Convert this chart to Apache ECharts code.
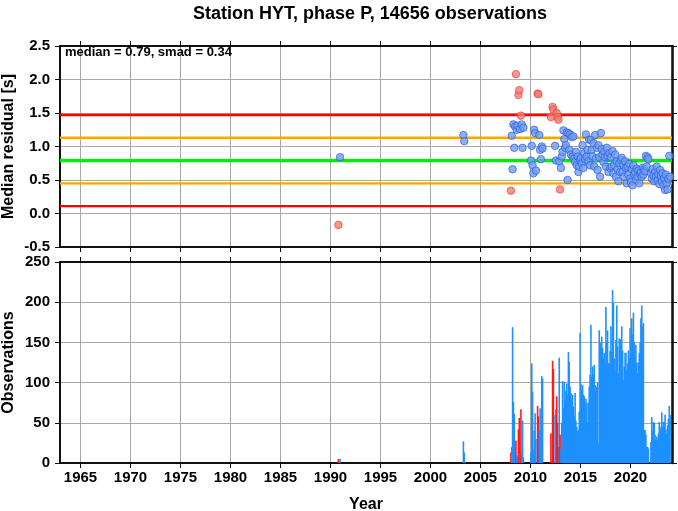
<!DOCTYPE html>
<html><head><meta charset="utf-8">
<script src="https://cdn.jsdelivr.net/npm/echarts@6/dist/echarts.min.js"></script>
<style>html,body{margin:0;padding:0;background:#fff}#c{width:678px;height:511px}</style>
</head><body><div id="c"></div>
<script>
const titleText = 'Station HYT, phase P, 14656 observations';
const medianValue = 0.79;
const smadValue = 0.34;
const xTickYears = [1965,1970,1975,1980,1985,1990,1995,2000,2005,2010,2015,2020];
const residualTicks = [-0.5,0,0.5,1,1.5,2,2.5];
const countTicks = [0,50,100,150,200,250];

// early period (sparse months); flagged = drawn in red
const earlyMonths = ['1990-10','1990-12','2003-04','2003-05',
 '2008-01','2008-02','2008-03','2008-04','2008-05','2008-06','2008-07','2008-08','2008-09','2008-10','2008-11','2008-12',
 '2009-01','2009-02','2009-03','2009-04',
 '2010-01','2010-02','2010-03','2010-04','2010-05','2010-06','2010-07','2010-09','2010-10','2010-11','2010-12',
 '2011-01','2011-02','2011-03',
 '2012-01','2012-03','2012-04','2012-06','2012-07','2012-08','2012-09','2012-10','2012-11','2012-12','2013-01'];
const earlyMedians = [-0.17,0.84,1.17,1.08,
 0.34,1.16,0.66,1.33,0.98,1.30,2.08,1.25,1.31,1.77,1.84,1.26,
 1.46,1.33,0.98,1.28,
 0.79,1.01,0.72,0.60,1.25,1.20,0.64,1.79,1.78,1.17,0.95,
 0.81,1.00,0.97,
 1.44,1.59,1.55,1.01,0.79,1.50,1.44,1.40,0.78,0.36,0.68];
const earlyCounts = [5,5,27,13,
 13,20,169,76,61,20,28,10,8,42,56,12,
 67,15,53,7,
 13,124,89,17,40,62,30,71,58,41,68,
 40,108,105,
 37,127,117,60,67,83,50,20,131,35,17];
const earlyFlagged = [1,0,0,0,
 1,0,0,0,0,0,1,0,0,1,1,0,
 1,0,0,0,
 0,0,0,0,0,0,0,1,1,0,0,
 0,0,0,
 1,1,1,0,0,1,1,1,0,1,0];

// continuous monthly period, from 2013-02 (2021-11 and 2021-12 have no data)
const med2013 = [0.85,0.92,1.24,1.11,0.98,1.02,1.21,0.50,1.20,0.95,1.18];
const med2014 = [0.88,1.14,0.85,1.15,0.82,0.77,0.92,0.72,0.85,0.62,0.70,0.80];
const med2015 = [0.83,0.75,1.02,0.68,0.90,0.81,1.18,0.85,0.95,0.78,1.10,0.72];
const med2016 = [1.10,0.95,0.85,1.05,0.70,1.17,0.82,0.98,0.65,1.02,0.84,0.55];
const med2017 = [1.20,0.96,0.88,0.77,0.92,0.84,0.70,0.98,0.86,0.62,0.90,0.68];
const med2018 = [0.84,0.70,0.93,0.60,0.72,0.88,0.55,0.78,0.66,0.48,0.75,0.62];
const med2019 = [0.80,0.83,0.62,0.72,0.55,0.78,0.68,0.45,0.70,0.58,0.74,0.52];
const med2020 = [0.47,0.66,0.42,0.72,0.58,0.62,0.50,0.67,0.55,0.64,0.45,0.60];
const med2021 = [0.62,0.55,0.68,0.58,0.66,0.63,0.86,0.70,0.84,0.81];
const med2022 = [0.60,0.52,0.66,0.57,0.48,0.62,0.55,0.70,0.50,0.58,0.44,0.65];
const med2023 = [0.56,0.48,0.60,0.42,0.53,0.35,0.58,0.45,0.36,0.52,0.86,0.55];

const cnt2013 = [50,102,68,101,90,76,99,85,138,126,95];
const cnt2014 = [87,80,85,70,58,87,53,45,39,41,64,162];
const cnt2015 = [99,90,97,85,83,70,80,75,50,75,95,110];
const cnt2016 = [172,107,120,110,122,97,90,95,100,25,165,150];
const cnt2017 = [145,157,143,130,137,124,194,150,165,124,124,140];
const cnt2018 = [170,138,215,199,130,116,153,196,145,112,155,154];
const cnt2019 = [150,170,140,103,120,137,137,115,124,140,130,168];
const cnt2020 = [150,180,160,187,150,137,147,125,112,125,137,150];
const cnt2021 = [180,196,170,174,41,41,35,20,20,18];
const cnt2022 = [26,57,40,51,50,35,29,33,29,37,51,45];
const cnt2023 = [40,63,45,51,51,60,42,37,47,55,71,60];

// ---------- build ----------
const FONT = '"Liberation Sans", Arial, Helvetica, sans-serif';
const xMin = 1962.95, xMax = 2024.15;
const recs = [];
earlyMonths.forEach((m,i)=>{
  const [y,mo] = m.split('-').map(Number);
  recs.push({x: y + (mo-0.5)/12, med: earlyMedians[i], cnt: earlyCounts[i], red: earlyFlagged[i]===1});
});
const yearly = [[2013,2,med2013,cnt2013],[2014,1,med2014,cnt2014],[2015,1,med2015,cnt2015],[2016,1,med2016,cnt2016],
  [2017,1,med2017,cnt2017],[2018,1,med2018,cnt2018],[2019,1,med2019,cnt2019],[2020,1,med2020,cnt2020],
  [2021,1,med2021,cnt2021],[2022,1,med2022,cnt2022],[2023,1,med2023,cnt2023]];
yearly.forEach(([y,startMonth,meds,cnts])=>{
  meds.forEach((v,i)=>{
    const mo = startMonth + i;
    recs.push({x: y + (mo-0.5)/12, med: v, cnt: cnts[i], red:false});
  });
});

const bluePt = {color:'#6f9ef2', borderColor:'#2f5fe0', borderWidth:0.9};
const redPt = {color:'#f77a72', borderColor:'#e8443c', borderWidth:0.9};
const scatterBlue = recs.filter(r=>!r.red).map(r=>[r.x, r.med]);
const scatterRed = recs.filter(r=>r.red).map(r=>[r.x, r.med]);
const barData = recs.map(r=>[r.x, r.cnt, r.red ? 1 : 0]);

const refLines = [
  {v: medianValue + 2*smadValue, color:'#ff0000', w:2.4},
  {v: medianValue - 2*smadValue, color:'#ff0000', w:2.4},
  {v: medianValue + smadValue, color:'#ffa500', w:2.4},
  {v: medianValue - smadValue, color:'#ffa500', w:2.4},
  {v: medianValue, color:'#00ee00', w:3.4}
];

const labelStyle = {fontFamily: FONT, fontWeight:'bold', fontSize:15, color:'#000'};
const nameStyle = {fontFamily:FONT, fontWeight:'bold', fontSize:16, color:'#000'};
const gridLine = {lineStyle:{color:'#a8a8a8', width:1}};
function xAxis(gridIndex, position, showLabel, name){
  return {
    type:'value', gridIndex, position, min:xMin, max:xMax, splitNumber:12, minInterval:5, maxInterval:5,
    axisLine:{show:true, onZero:false, lineStyle:{color:'#111', width:2}},
    axisTick:{show:true, inside:false, length:5, customValues:xTickYears, lineStyle:{color:'#111', width:1}},
    axisLabel:Object.assign({show:showLabel, margin:7, customValues:xTickYears, formatter:v=>String(v)}, labelStyle),
    splitLine:Object.assign({show: position==='bottom'}, gridLine),
    name: name || '', nameLocation:'middle', nameGap:34, nameMoveOverlap:false,
    nameTextStyle:nameStyle
  };
}
function yAxis(gridIndex, position, min, max, interval, ticks, fmt, name, showLabel){
  return {
    type:'value', gridIndex, position, min, max, interval,
    axisLine:{show:true, onZero:false, lineStyle:{color:'#111', width: position==='right' ? 2.6 : 2}},
    axisTick:{show:true, inside:false, length:5, customValues:ticks, lineStyle:{color:'#111', width:1}},
    axisLabel:Object.assign({show:showLabel, margin:10, customValues:ticks, formatter:fmt}, labelStyle),
    splitLine:Object.assign({show: position==='left'}, gridLine),
    name: name || '', nameLocation:'middle', nameGap:43, nameMoveOverlap:false,
    nameTextStyle:nameStyle
  };
}

const series = [];
refLines.forEach(l=>{
  series.push({type:'line', xAxisIndex:0, yAxisIndex:0, z:2, silent:true, symbol:'none',
    data:[[xMin,l.v],[xMax,l.v]], lineStyle:{color:l.color, width:l.w}});
});
series.push({type:'scatter', xAxisIndex:0, yAxisIndex:0, z:5, symbol:'circle', symbolSize:7.5,
  data:scatterBlue, itemStyle:bluePt});
series.push({type:'scatter', xAxisIndex:0, yAxisIndex:0, z:5, symbol:'circle', symbolSize:7.5,
  data:scatterRed, itemStyle:redPt});
series.push({type:'custom', xAxisIndex:2, yAxisIndex:2, z:3, data:barData,
  encode:{x:0, y:1},
  renderItem:function(params, api){
    const x = api.value(0), c = api.value(1), red = api.value(2);
    const p0 = api.coord([x, 0]);
    const p1 = api.coord([x, c]);
    return {type:'rect', shape:{x:p0[0]-0.8, y:p1[1], width:1.6, height:p0[1]-p1[1]},
      style:{fill: red ? '#ff1a1a' : '#1e90ff'}};
  }});

const option = {
  animation:false,
  backgroundColor:'#fff',
  title:{text:titleText, left:365, top:0, textAlign:'center',
    textStyle:{fontFamily:FONT, fontWeight:'bold', fontSize:18, color:'#000'}},
  grid:[
    {left:60, top:46, width:612, height:201, containLabel:false, outerBoundsMode:'none'},
    {left:60, top:262, width:612, height:201, containLabel:false, outerBoundsMode:'none'}
  ],
  xAxis:[
    xAxis(0,'bottom',false),
    xAxis(0,'top',false),
    xAxis(1,'bottom',true,'Year'),
    xAxis(1,'top',false)
  ],
  yAxis:[
    yAxis(0,'left',-0.5,2.5,0.5,residualTicks,v=>v.toFixed(1),'Median residual [s]',true),
    yAxis(0,'right',-0.5,2.5,0.5,residualTicks,v=>v.toFixed(1),'',false),
    yAxis(1,'left',0,250,50,countTicks,v=>String(v),'Observations',true),
    yAxis(1,'right',0,250,50,countTicks,v=>String(v),'',false)
  ],
  graphic:[{type:'text', left:65, top:46, z:10,
    style:{text:'median = ' + medianValue.toFixed(2) + ', smad = ' + smadValue.toFixed(2),
      font:'bold 13px ' + FONT, fill:'#000'}}],
  series
};
const chart = echarts.init(document.getElementById('c'), null, {renderer:'canvas'});
chart.setOption(option);
</script>
</body></html>
